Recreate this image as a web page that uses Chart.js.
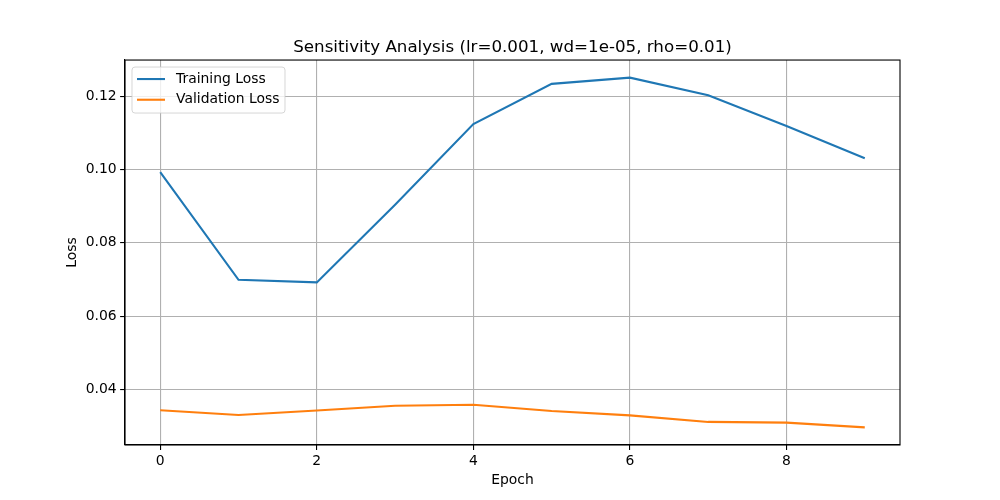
<!DOCTYPE html>
<html>
<head>
<meta charset="utf-8">
<title>Sensitivity Analysis</title>
<script src="https://cdn.jsdelivr.net/npm/chart.js@4.4.1/dist/chart.umd.min.js"></script>
<style>
    html, body { margin: 0; padding: 0; background: #fff; }
    #wrap { width: 1000px; height: 500px; }
</style>
</head>
<body>
<div id="wrap"><canvas id="lossChart" width="1000" height="500"></canvas></div>
<script>
// Values
const epochs = [0, 1, 2, 3, 4, 5, 6, 7, 8, 9];
const trainLoss = [0.0993, 0.0699, 0.0692, 0.0904, 0.1124, 0.1234, 0.1251, 0.1203, 0.1119, 0.1031];
const valLoss = [0.0343, 0.0330, 0.0342, 0.0355, 0.0358, 0.0341, 0.0329, 0.0311, 0.0309, 0.0296];
const xTicks = [0, 2, 4, 6, 8];
const yTicks = [0.04, 0.06, 0.08, 0.10, 0.12];

Chart.defaults.font.family = '"DejaVu Sans", sans-serif';
Chart.defaults.color = '#000';

const toPoints = (vals) => epochs.map((e, i) => ({ x: e, y: vals[i] }));

// Legend box in the upper left corner of the plot, drawn over the grid
const boxLegend = {
    id: 'boxLegend',
    afterDatasetsDraw(chart) {
        const { ctx, chartArea } = chart;
        const x = chartArea.left + 7;
        const y = chartArea.top + 7;
        ctx.save();
        ctx.fillStyle = 'rgba(255,255,255,0.8)';
        ctx.strokeStyle = 'rgba(204,204,204,0.8)';
        ctx.lineWidth = 1;
        ctx.beginPath();
        ctx.roundRect(x, y, 153, 46, 3);
        ctx.fill();
        ctx.stroke();
        ctx.font = '13.9px "DejaVu Sans"';
        ctx.textBaseline = 'middle';
        chart.data.datasets.forEach((ds, i) => {
            const cy = y + 12 + i * 20.7;
            ctx.strokeStyle = ds.borderColor;
            ctx.lineWidth = ds.borderWidth;
            ctx.beginPath();
            ctx.moveTo(x + 5, cy);
            ctx.lineTo(x + 33, cy);
            ctx.stroke();
            ctx.fillStyle = '#000';
            ctx.fillText(ds.label, x + 44, cy);
        });
        ctx.restore();
    }
};

// Full black frame around the plot area
const frame = {
    id: 'frame',
    afterDraw(chart) {
        const { ctx, chartArea } = chart;
        ctx.save();
        ctx.strokeStyle = '#000';
        ctx.lineWidth = 1.1;
        ctx.strokeRect(chartArea.left, chartArea.top, chartArea.width, chartArea.height);
        ctx.restore();
    }
};

const gridOpts = {
    color: '#b0b0b0',
    lineWidth: 1.1,
    tickColor: '#000',
    tickWidth: 1.1,
    tickLength: 4.9
};

new Chart(document.getElementById('lossChart').getContext('2d'), {
    type: 'line',
    data: {
        datasets: [
            {
                label: 'Training Loss',
                data: toPoints(trainLoss),
                borderColor: '#1f77b4',
                borderWidth: 2.1,
                pointRadius: 0,
                tension: 0,
                fill: false
            },
            {
                label: 'Validation Loss',
                data: toPoints(valLoss),
                borderColor: '#ff7f0e',
                borderWidth: 2.1,
                pointRadius: 0,
                tension: 0,
                fill: false
            }
        ]
    },
    options: {
        responsive: false,
        animation: false,
        layout: { padding: { left: 60, right: 100, top: 0, bottom: 0 } },
        plugins: {
            legend: { display: false },
            tooltip: { enabled: false },
            title: {
                display: true,
                fullSize: false,
                text: 'Sensitivity Analysis (lr=0.001, wd=1e-05, rho=0.01)',
                font: { size: 16.7, weight: 'normal' },
                padding: { top: 38, bottom: 2 }
            }
        },
        scales: {
            x: {
                type: 'linear',
                min: -0.45,
                max: 9.45,
                afterBuildTicks: (scale) => { scale.ticks = xTicks.map(v => ({ value: v })); },
                afterFit: (scale) => { scale.height = 55; },
                ticks: { font: { size: 13.9 }, padding: 3.5, maxRotation: 0, callback: (v) => String(v) },
                grid: gridOpts,
                border: { color: '#000', width: 1.1 },
                title: { display: true, text: 'Epoch', font: { size: 13.9 }, padding: { top: 0, bottom: 11 } }
            },
            y: {
                type: 'linear',
                min: 0.0248,
                max: 0.1299,
                afterBuildTicks: (scale) => { scale.ticks = yTicks.map(v => ({ value: v })); },
                afterFit: (scale) => { scale.width = 65; },
                ticks: { font: { size: 13.9 }, padding: 3.5, callback: (v) => v.toFixed(2) },
                grid: gridOpts,
                border: { color: '#000', width: 1.1 },
                title: { display: true, text: 'Loss', font: { size: 13.9 }, padding: { top: 4, bottom: 0 } }
            }
        }
    },
    plugins: [boxLegend, frame]
});
</script>
</body>
</html>
